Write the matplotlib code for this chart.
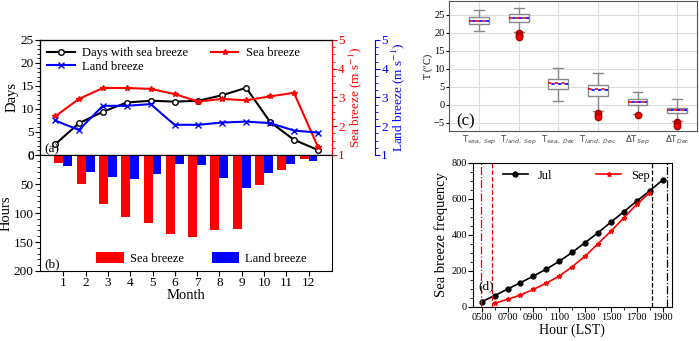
import matplotlib
matplotlib.use("Agg")
import matplotlib.pyplot as plt
from matplotlib.ticker import MultipleLocator

plt.rcParams['font.family'] = ['Liberation Serif', 'DejaVu Serif']
plt.rcParams['mathtext.fontset'] = 'stix'

# panel (a)/(b) data
months = list(range(1, 13))
sb_days = [2.3, 6.9, 9.4, 11.4, 11.8, 11.6, 11.8, 13.0, 14.6, 7.2, 3.3, 1.1]
sb_speed = [2.34, 2.95, 3.33, 3.33, 3.30, 3.12, 2.86, 2.95, 2.90, 3.04, 3.16, 1.29]
lb_speed = [2.20, 1.87, 2.71, 2.71, 2.77, 2.05, 2.05, 2.13, 2.16, 2.11, 1.85, 1.78]
sb_hours = [14, 50, 85, 107, 118, 137, 141, 129, 127, 51, 25, 7.5]
lb_hours = [19, 29.5, 38, 41, 33, 16, 18, 39, 56, 31, 16, 10]

# panel (c) box statistics
box_labels = [r'T$_{sea,\ Sep}$', r'T$_{land,\ Sep}$', r'T$_{sea,\ Dec}$',
              r'T$_{land,\ Dec}$', r'$\Delta$T$_{Sep}$', r'$\Delta$T$_{Dec}$']
box_whislo = [20.6, 20.1, 1.1, -1.8, -2.7, -4.4]
box_q1 = [22.4, 22.9, 4.5, 2.4, -0.1, -2.4]
box_med = [23.3, 24.1, 6.1, 4.3, 0.8, -1.5]
box_mean = [23.3, 24.0, 5.7, 4.0, 0.7, -1.6]
box_q3 = [24.4, 25.2, 7.1, 5.5, 1.6, -0.8]
box_whishi = [26.3, 27.0, 10.1, 8.7, 3.6, 1.5]
box_fliers = [[], [19.8, 19.4, 19.0, 18.7], [], [-2.2, -2.6, -3.0, -3.3], [-2.9], [-4.7, -5.1, -5.5, -5.9]]

# panel (d) data
hours_jul = list(range(5, 20))
freq_jul = [28, 61, 98, 133, 170, 209, 252, 302, 356, 411, 470, 528, 587, 644, 704]
hours_sep = list(range(6, 19))
freq_sep = [19, 41, 65, 96, 131, 170, 222, 281, 350, 420, 494, 570, 633]
sunrise_jul, sunrise_sep = 4.93, 5.78
sunset_sep, sunset_jul = 18.15, 19.3

fs = 9.5

fig = plt.figure(figsize=(6.99, 3.41), dpi=100)

# ---------- (a) ----------
ax_a = fig.add_axes([0.0572, 0.5455, 0.4177, 0.3372])
ax_a.plot(months, sb_days, color='black', marker='o', mfc='white', ms=4, lw=1.5,
          label='Days with sea breeze')
ax_a.set_xlim(0.37, 12.59)
ax_a.set_ylim(0, 25)
ax_a.yaxis.set_major_locator(MultipleLocator(5))
ax_a.yaxis.set_minor_locator(MultipleLocator(1))
ax_a.set_xticks([])
ax_a.set_ylabel('Days', fontsize=10.5, labelpad=1)
ax_a.tick_params(labelsize=fs, pad=1)
ax_a.text(0.015, 0.02, '(a)', transform=ax_a.transAxes, fontsize=fs)

ax_r = ax_a.twinx()
ax_r.plot(months, sb_speed, color='red', marker='*', ms=4, lw=1.5, label='Sea breeze')
ax_r.set_ylim(1, 5)
ax_r.yaxis.set_major_locator(MultipleLocator(1))
ax_r.yaxis.set_minor_locator(MultipleLocator(0.25))
ax_r.spines['right'].set_color('red')
ax_r.tick_params(axis='y', colors='red', which='both', labelsize=fs, pad=1)
ax_r.set_ylabel('Sea breeze (m s$^{-1}$)', color='red', fontsize=fs, labelpad=1)

ax_r2 = ax_a.twinx()
ax_r2.plot(months, lb_speed, color='blue', marker='x', ms=4, lw=1.5, label='Land breeze')
ax_r2.set_ylim(1, 5)
ax_r2.spines['right'].set_position(('outward', 31))
ax_r2.spines['right'].set_color('blue')
ax_r2.yaxis.set_major_locator(MultipleLocator(1))
ax_r2.yaxis.set_minor_locator(MultipleLocator(0.25))
ax_r2.tick_params(axis='y', colors='blue', which='both', labelsize=fs, pad=1)
ax_r2.set_ylabel('Land breeze (m s$^{-1}$)', color='blue', fontsize=fs, labelpad=1)

h1, l1 = ax_a.get_legend_handles_labels()
h2, l2 = ax_r.get_legend_handles_labels()
h3, l3 = ax_r2.get_legend_handles_labels()
ax_r2.legend(h1 + h3 + h2, l1 + l3 + l2, ncol=2, loc='upper left', frameon=False,
             fontsize=9, handlelength=2.2, columnspacing=1.8, labelspacing=0.1,
             borderaxespad=0.2, handletextpad=0.6)

# ---------- (b) ----------
ax_b = fig.add_axes([0.0572, 0.2053, 0.4177, 0.340])
ax_b.bar([m - 0.2 for m in months], sb_hours, width=0.4, color='red', label='Sea breeze')
ax_b.bar([m + 0.2 for m in months], lb_hours, width=0.4, color='blue', label='Land breeze')
ax_b.set_xlim(-0.05, 13.05)
ax_b.set_ylim(200, 0)
ax_b.set_xticks(months)
ax_b.yaxis.set_major_locator(MultipleLocator(50))
ax_b.yaxis.set_minor_locator(MultipleLocator(10))
ax_b.tick_params(labelsize=fs, pad=1)
ax_b.set_ylabel('Hours', fontsize=10.5, labelpad=1)
ax_b.set_xlabel('Month', fontsize=10.5, labelpad=0)
ax_b.text(0.015, 0.03, '(b)', transform=ax_b.transAxes, fontsize=fs)
ax_b.legend(ncol=2, loc='lower left', bbox_to_anchor=(0.155, -0.045), frameon=False,
            fontsize=9, handlelength=2.2, handleheight=0.9, columnspacing=2.2,
            handletextpad=0.5)

# ---------- (c) ----------
ax_c = fig.add_axes([0.6423, 0.6158, 0.3548, 0.381])
stats = []
for i in range(len(box_labels)):
    stats.append(dict(label=box_labels[i], whislo=box_whislo[i], q1=box_q1[i],
                      med=box_med[i], q3=box_q3[i], whishi=box_whishi[i],
                      mean=box_mean[i], fliers=box_fliers[i]))
ax_c.bxp(stats, positions=range(1, 7), widths=0.5, showmeans=True, meanline=True,
         patch_artist=True,
         boxprops=dict(facecolor='white', edgecolor='#888888', lw=1),
         whiskerprops=dict(color='#888888', lw=1),
         capprops=dict(color='#888888', lw=1),
         medianprops=dict(color='red', lw=1.2, linestyle=(0, (2, 2))),
         meanprops=dict(color='blue', lw=1.2, linestyle=(2, (2, 2))),
         flierprops=dict(marker='o', mfc='red', mec='#aa0000', ms=4.5))
ax_c.set_xlim(0.24, 6.5)
ax_c.set_ylim(-7.3, 28.8)
ax_c.yaxis.set_major_locator(MultipleLocator(5))
ax_c.grid(True, color='#dddddd', lw=0.8)
ax_c.set_axisbelow(True)
for s in ax_c.spines.values():
    s.set_color('#555555')
ax_c.tick_params(axis='y', labelsize=7.5, pad=1, length=2)
ax_c.tick_params(axis='x', labelsize=6.3, pad=2, length=0, colors='#444444')
for lbl in ax_c.get_xticklabels():
    lbl.set_fontfamily('DejaVu Sans')
    lbl.set_math_fontfamily('dejavusans')
ax_c.set_ylabel('T ($^o$C)', fontsize=7, labelpad=-1)
ax_c.text(0.03, 0.04, '(c)', transform=ax_c.transAxes, fontsize=12)

# ---------- (d) ----------
ax_d = fig.add_axes([0.6767, 0.1006, 0.2843, 0.4223])
ax_d.plot(hours_jul, freq_jul, color='black', marker='o', ms=3.5, lw=1.2, label='Jul')
ax_d.plot(hours_sep, freq_sep, color='red', marker='*', ms=3.5, lw=1.2, label='Sep')
ax_d.axvline(sunrise_jul, color='red', ls='-.', lw=0.9)
ax_d.axvline(sunrise_sep, color='red', ls='--', lw=0.9)
ax_d.axvline(sunset_sep, color='black', ls='--', lw=0.9)
ax_d.axvline(sunset_jul, color='black', ls='-.', lw=0.9)
ax_d.set_xlim(4.33, 19.7)
ax_d.set_ylim(0, 800)
ax_d.set_xticks(range(5, 20, 2))
ax_d.set_xticklabels(['%02d00' % h for h in range(5, 20, 2)])
ax_d.xaxis.set_minor_locator(MultipleLocator(1))
ax_d.yaxis.set_major_locator(MultipleLocator(200))
ax_d.yaxis.set_minor_locator(MultipleLocator(50))
ax_d.tick_params(labelsize=7.5, pad=1)
ax_d.set_xlabel('Hour (LST)', fontsize=10, labelpad=1)
ax_d.set_ylabel('Sea breeze frequency', fontsize=10.5, labelpad=2)
ax_d.text(4.75, 95, '(d)', fontsize=fs)
ax_d.legend(ncol=2, loc='upper center', bbox_to_anchor=(0.52, 1.03), frameon=False,
            fontsize=9, handlelength=2.0, columnspacing=3.5)

fig.savefig('out.png', dpi=100)
